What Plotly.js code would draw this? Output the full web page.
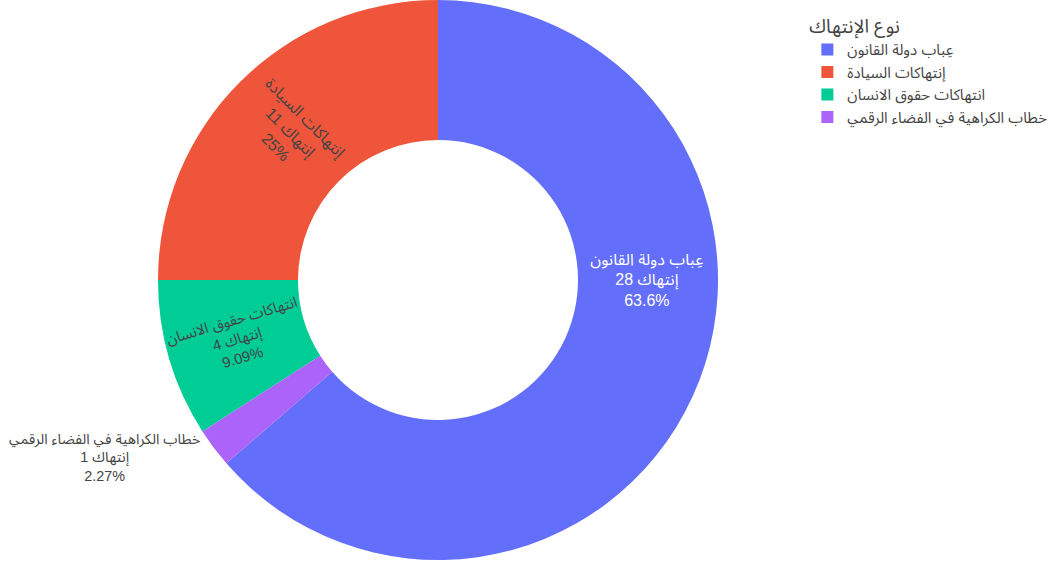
<!DOCTYPE html>
<html>
<head>
<meta charset="utf-8">
<script src="https://cdn.plot.ly/plotly-3.0.1.min.js"></script>
<style>html,body{margin:0;padding:0;background:#fff;}#chart{width:1054px;height:570px;}</style>
</head>
<body>
<div id="chart"></div>
<script>
const labels = ["عِباب دولة القانون", "إنتهاكات السيادة", "انتهاكات حقوق الانسان", "خطاب الكراهية في الفضاء الرقمي"];
const values = [28, 11, 4, 1];
const colors = ["#636efa", "#EF553B", "#00cc96", "#ab63fa"];
const textPositions = ["inside", "inside", "inside", "outside"];
const legendTitle = "نوع الإنتهاك";
const unitWord = "إنتهاك";

const FONT = "Arial, 'Liberation Sans', 'Noto Sans Arabic UI', 'Noto Sans Arabic', sans-serif";

const trace = {
  type: "pie",
  labels: labels,
  values: values,
  hole: 0.5,
  marker: {colors: colors},
  texttemplate: "%{label}<br>" + unitWord + " %{value}<br>%{percent}",
  textposition: textPositions,
  insidetextorientation: "radial",
  outsidetextfont: {size: 14.4},
  sort: true
};

const layout = {
  width: 1054,
  height: 570,
  font: {family: FONT, size: 16, color: "#444"},
  margin: {l: 80, r: 258, t: 0, b: 10},
  paper_bgcolor: "#fff",
  legend: {xref: "container", yref: "container", x: 0.766, y: 0.985, xanchor: "left", yanchor: "top",
           title: {text: legendTitle, font: {size: 19}}, font: {size: 15}},
  showlegend: true
};

Plotly.newPlot("chart", [trace], layout, {displayModeBar: false});
</script>
</body>
</html>
